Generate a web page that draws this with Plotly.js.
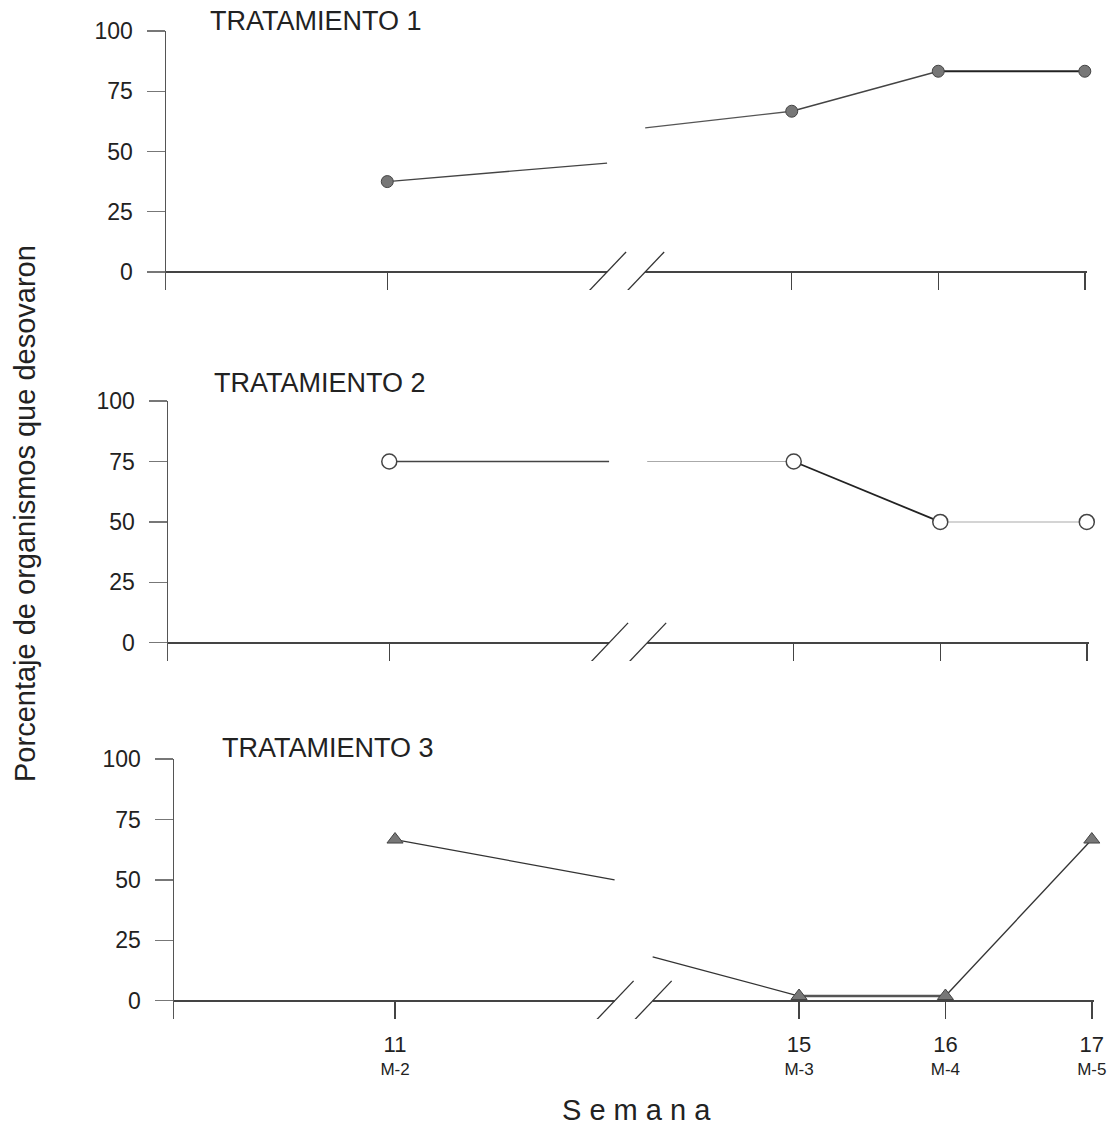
<!DOCTYPE html>
<html>
<head>
<meta charset="utf-8">
<script src="https://cdn.plot.ly/plotly-3.0.1.min.js"></script>
<style>
  html, body { margin: 0; padding: 0; background: #fff; }
  #chart { width: 1117px; height: 1128px; }
</style>
</head>
<body>
<div id="chart"></div>
<script>
// Sampling weeks and their sample codes
const weeks = [11, 15, 16, 17];
const weekCodes = ['M-2', 'M-3', 'M-4', 'M-5'];

// Percentage of organisms that spawned, per treatment
const tratamiento1 = [37.5, 66.7, 83.3, 83.3];
const tratamiento2 = [75, 75, 50, 50];
const tratamiento3 = [66.7, 2, 2, 66.7];

// The week axis is cut between these two weeks
const breakWeeks = [12.5, 14];
// Level of each line where it enters / leaves the cut
const corte1 = [45.2, 59.8];
const corte2 = [75, 75];
const corte3 = [50, 18.2];

const panelTitles = ['TRATAMIENTO 1', 'TRATAMIENTO 2', 'TRATAMIENTO 3'];
const yTicks = [0, 25, 50, 75, 100];

// ---- axis cut: weeks after the cut are pulled left, leaving a small gap ----
const GAP = 0.26;
function pos(w) {
  return w <= breakWeeks[0] ? w : w - (breakWeeks[1] - breakWeeks[0]) + GAP;
}

const W = 1117, H = 1128;
const FONT = 'Liberation Sans, Arial, Helvetica, sans-serif';

// pixel boxes of the three panels: [left, right, top(100), bottom]
const boxes = [
  [166, 1087, 31, 290],
  [168, 1089, 401, 661],
  [174, 1094, 759, 1019]
];

const series = [tratamiento1, tratamiento2, tratamiento3];
const cortes = [corte1, corte2, corte3];

// segment styling: week11->cut, cut->15, 15->16, 16->17
const segStyle = [
  [['#444', 1.3], ['#555', 1.3], ['#444', 1.4], ['#222', 1.8]],
  [['#444', 1.4], ['#aaa', 1.1], ['#222', 1.8], ['#aaa', 1.1]],
  [['#333', 1.3], ['#333', 1.3], ['#555', 2.6], ['#333', 1.3]]
];

const markerStyle = [
  { symbol: 'circle', size: 12, color: '#777', line: { color: '#444', width: 1 } },
  { symbol: 'circle', size: 15, color: '#fff', line: { color: '#444', width: 1.5 } },
  { symbol: 'triangle-up', size: 14, color: '#777', line: { color: '#444', width: 1 } }
];

const traces = [];
const layout = {
  width: W, height: H,
  margin: { l: 0, r: 0, t: 0, b: 0 },
  paper_bgcolor: '#fff', plot_bgcolor: '#fff',
  showlegend: false,
  font: { family: FONT, color: '#222' },
  shapes: [],
  annotations: []
};

series.forEach((vals, i) => {
  const k = i === 0 ? '' : String(i + 1);
  const xa = 'x' + k, ya = 'y' + k;
  const c = cortes[i];

  const segs = [
    [[weeks[0], vals[0]], [breakWeeks[0], c[0]]],
    [[breakWeeks[1], c[1]], [weeks[1], vals[1]]],
    [[weeks[1], vals[1]], [weeks[2], vals[2]]],
    [[weeks[2], vals[2]], [weeks[3], vals[3]]]
  ];
  segs.forEach((s, j) => {
    traces.push({
      x: [pos(s[0][0]), pos(s[1][0])],
      y: [s[0][1], s[1][1]],
      mode: 'lines',
      line: { color: segStyle[i][j][0], width: segStyle[i][j][1] },
      xaxis: xa, yaxis: ya, hoverinfo: 'skip', cliponaxis: false
    });
  });
  traces.push({
    x: weeks.map(pos), y: vals,
    mode: 'markers',
    marker: markerStyle[i],
    xaxis: xa, yaxis: ya, cliponaxis: false
  });

  const b = boxes[i];
  const last = i === series.length - 1;
  layout['xaxis' + k] = {
    domain: [b[0] / W, b[1] / W],
    range: [9.49, 15.775],
    anchor: ya,
    tickmode: 'array',
    tickvals: weeks.map(pos),
    ticktext: weeks.map((w, n) =>
      '<span style="font-size:22px">' + w + '</span><br><span style="font-size:17px">' + weekCodes[n] + '</span>'),
    ticks: 'inside', ticklen: 18, tickwidth: 1.5, tickcolor: '#444',
    showticklabels: last,
    tickfont: { family: FONT, size: 18, color: '#222' },
    ticklabelstandoff: 14,
    showline: false, showgrid: false, zeroline: false, fixedrange: true
  };
  layout['yaxis' + k] = {
    domain: [1 - b[3] / H, 1 - b[2] / H],
    range: [-7.5, 100],
    anchor: xa,
    tickmode: 'array', tickvals: yTicks,
    ticks: 'outside', ticklen: 18, tickwidth: 1.2, tickcolor: '#777',
    tickfont: { family: FONT, size: 23, color: '#222' },
    ticklabelstandoff: 9,
    showline: true, linecolor: '#555', linewidth: 1.5,
    showgrid: false,
    zeroline: true, zerolinecolor: '#444', zerolinewidth: 1.5,
    fixedrange: true
  };

  // cut in the week axis: clear the axis line between the two slashes
  layout.shapes.push({
    type: 'rect', layer: 'above',
    xref: xa, x0: pos(breakWeeks[0]), x1: pos(breakWeeks[1]),
    yref: ya, ysizemode: 'pixel', yanchor: 0, y0: -3, y1: 3,
    fillcolor: '#fff', line: { width: 0 }
  });
  breakWeeks.forEach(bw => {
    layout.shapes.push({
      type: 'line', layer: 'above',
      xref: xa, xsizemode: 'pixel', xanchor: pos(bw), x0: -19, x1: 19,
      yref: ya, ysizemode: 'pixel', yanchor: 0, y0: -20, y1: 20,
      line: { color: '#333', width: 1.3 }
    });
  });
});

// panel titles
const titlePos = [[208, 21], [212, 383], [220, 748]];
panelTitles.forEach((t, i) => {
  layout.annotations.push({
    text: t, xref: 'paper', yref: 'paper',
    x: titlePos[i][0] / W, y: 1 - titlePos[i][1] / H,
    xanchor: 'left', yanchor: 'middle', showarrow: false,
    font: { family: FONT, size: 27, color: '#222' }
  });
});

// shared axis titles
layout.annotations.push({
  text: 'Porcentaje de organismos que desovaron',
  xref: 'paper', yref: 'paper', x: 25 / W, y: 1 - 514 / H,
  xanchor: 'center', yanchor: 'middle', textangle: -90, showarrow: false,
  font: { family: FONT, size: 29, color: '#222' }
});
layout.annotations.push({
  text: 'S e m a n a',
  xref: 'paper', yref: 'paper', x: 636 / W, y: 1 - 1110 / H,
  xanchor: 'center', yanchor: 'middle', showarrow: false,
  font: { family: FONT, size: 29, color: '#222' }
});

Plotly.newPlot('chart', traces, layout, { displayModeBar: false, staticPlot: true });
</script>
</body>
</html>
